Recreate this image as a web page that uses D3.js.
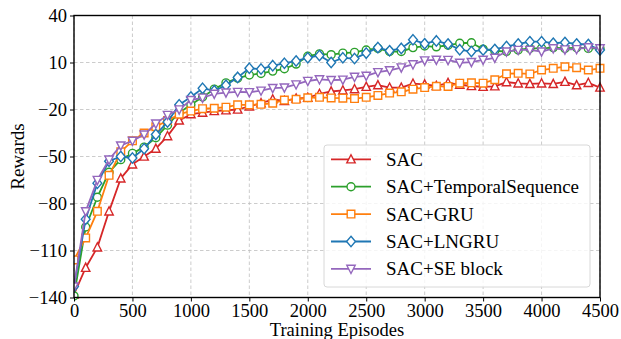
<!DOCTYPE html>
<html>
<head>
<meta charset="utf-8">
<script src="https://cdn.jsdelivr.net/npm/d3@7"></script>
<style>
  html, body { margin: 0; padding: 0; background: #fff; }
  svg text { font-family: "Liberation Serif", "Times New Roman", Tinos, Times, "DejaVu Serif", serif; fill: #000; }
</style>
</head>
<body>
<div id="mainDiv"></div>
<script>
'use strict';

var episodes = [0, 100, 200, 300, 400, 500, 600, 700, 800, 900,
    1000, 1100, 1200, 1300, 1400, 1500, 1600, 1700, 1800, 1900,
    2000, 2100, 2200, 2300, 2400, 2500, 2600, 2700, 2800, 2900,
    3000, 3100, 3200, 3300, 3400, 3500, 3600, 3700, 3800, 3900,
    4000, 4100, 4200, 4300, 4400, 4500];

var sacValues = [-138, -121, -108, -85, -64, -55, -50, -45, -37, -27,
    -23, -22, -21, -20.5, -20, -18, -16, -13.5, -14.5, -13,
    -12.5, -10, -8.5, -7.8, -7, -5.5, -4.5, -6, -6, -3.5,
    -4, -5, -3, -4.2, -5, -5.5, -5.2, -2.5, -3.3, -3.7,
    -3.3, -3.7, -2.3, -4.5, -3, -6];

var temporalValues = [-139, -95, -76, -60, -52, -48, -44, -38, -30, -22,
    -17, -12, -7, -3, 0, 2, 3, 4.5, 6, 9,
    14, 15.5, 15, 16, 16.5, 18, 19, 17, 17, 19.5,
    20.5, 20, 21, 22.3, 22.6, 18.5, 17.5, 17, 18, 19,
    19, 19.5, 19, 19.5, 19, 19];

var gruValues = [-116, -102, -85, -62, -47, -40, -35, -31, -27, -23,
    -21, -19.5, -19.2, -18.5, -17, -17, -16.7, -16, -14, -13.5,
    -12.5, -12.2, -12.6, -12.8, -13, -12.2, -11, -9.5, -8.7, -7,
    -6, -5.2, -5.3, -3.2, -3, -3.2, -1, 2.8, 3.1, 2.7,
    5.2, 6.3, 7.3, 6.7, 5.2, 6.3];

var lngruValues = [-133, -90, -67, -53, -50, -51, -45, -36, -28, -17,
    -12, -6.5, -8, -4.5, 0.5, 6.3, 5.8, 8, 9.5, 11,
    13, 14.5, 10, 13, 12.5, 16, 19.5, 17.5, 19, 24.5,
    22, 23.8, 21.8, 18.2, 17, 18, 18.3, 20.2, 21.8, 23.3,
    23.3, 22.3, 22.8, 21.8, 21.5, 18];

var seValues = [-133, -85, -65, -52, -43, -40, -36, -29, -23.5, -20,
    -14, -12.5, -10, -9.2, -8.8, -9, -8, -6.3, -6, -4,
    -1.8, -0.8, -1.2, -1, 0.8, 1.5, 3.8, 5, 6.8, 8.8,
    11.3, 11.7, 11.6, 9.8, 10.3, 11.7, 13, 17, 18, 18,
    17, 19, 18.3, 18.5, 19.7, 19];

var seriesNames = ['SAC', 'SAC+TemporalSequence', 'SAC+GRU', 'SAC+LNGRU', 'SAC+SE block'];
var xTicks = [0, 500, 1000, 1500, 2000, 2500, 3000, 3500, 4000, 4500];
var yTicks = [-140, -110, -80, -50, -20, 10, 40];

var chart = {};
var serifFont = '"Liberation Serif", "Times New Roman", Tinos, Times, "DejaVu Serif", serif';

chart.series = [
    {name: seriesNames[0], values: sacValues,      color: '#d62728', marker: 'triUp'},
    {name: seriesNames[1], values: temporalValues, color: '#2ca02c', marker: 'circle'},
    {name: seriesNames[2], values: gruValues,      color: '#ff7f0e', marker: 'square'},
    {name: seriesNames[3], values: lngruValues,    color: '#1f77b4', marker: 'diamond'},
    {name: seriesNames[4], values: seValues,       color: '#9467bd', marker: 'triDown'}
];

// marker outlines, centred on 0,0
chart.markerPath = function(kind)
{
    if(kind === 'circle')  return d3.symbol(d3.symbolCircle, 50)();
    if(kind === 'square')  return 'M-3.8,-3.8H3.8V3.8H-3.8Z';
    if(kind === 'diamond') return 'M0,-5.2L4.4,0L0,5.2L-4.4,0Z';
    if(kind === 'triUp')   return 'M0,-4.6L4.2,3.6L-4.2,3.6Z';
    return 'M0,4.6L4.2,-3.6L-4.2,-3.6Z';
}

chart.run = function()
{
    var W = 621, H = 339;
    var left = 74, right = 600, top = 15.5, bottom = 297.5;

    var svg = d3.select('#mainDiv').append('svg')
        .attr('width', W)
        .attr('height', H)
        .attr('font-family', serifFont);

    var x = d3.scaleLinear().domain([0, 4500]).range([left, right]);
    var y = d3.scaleLinear().domain([-140, 40]).range([bottom, top]);

    // grid
    var grid = svg.append('g').attr('stroke', '#b0b0b0').attr('stroke-width', 0.8)
        .attr('stroke-dasharray', '3.5,2.5').attr('opacity', 0.8);
    grid.selectAll('.gx').data(xTicks).enter().append('line')
        .attr('x1', function(d){ return x(d); }).attr('x2', function(d){ return x(d); })
        .attr('y1', top).attr('y2', bottom);
    grid.selectAll('.gy').data(yTicks).enter().append('line')
        .attr('y1', function(d){ return y(d); }).attr('y2', function(d){ return y(d); })
        .attr('x1', left).attr('x2', right);

    svg.append('clipPath').attr('id', 'plotClip')
        .append('rect').attr('x', left).attr('y', top - 6)
        .attr('width', right - left + 6).attr('height', bottom - top + 12);

    var line = d3.line()
        .x(function(d, i){ return x(episodes[i]); })
        .y(function(d){ return y(d); });

    var plot = svg.append('g').attr('clip-path', 'url(#plotClip)');

    chart.series.forEach(function(s)
    {
        var g = plot.append('g');
        g.append('path')
            .attr('d', line(s.values))
            .attr('fill', 'none')
            .attr('stroke', s.color)
            .attr('stroke-width', 1.8)
            .attr('stroke-linejoin', 'round');
        g.selectAll('path.m').data(s.values).enter().append('path')
            .attr('class', 'm')
            .attr('d', chart.markerPath(s.marker))
            .attr('transform', function(d, i){ return 'translate(' + x(episodes[i]) + ',' + y(d) + ')'; })
            .attr('fill', '#fff')
            .attr('stroke', s.color)
            .attr('stroke-width', 1.4);
    });

    // axes
    var xAxis = svg.append('g').attr('transform', 'translate(0,' + bottom + ')')
        .call(d3.axisBottom(x).tickValues(xTicks).tickSize(4).tickPadding(2)
            .tickFormat(d3.format('d')));
    var yAxis = svg.append('g').attr('transform', 'translate(' + left + ',0)')
        .call(d3.axisLeft(y).tickValues(yTicks).tickSize(4).tickPadding(3)
            .tickFormat(function(d){ return d < 0 ? '\u2212' + Math.abs(d) : d; }));

    [xAxis, yAxis].forEach(function(a)
    {
        a.attr('font-family', serifFont);
        a.select('.domain').remove();
        a.selectAll('.tick line').attr('stroke', '#000').attr('stroke-width', 1);
        a.selectAll('.tick text').attr('font-size', 18.5).attr('fill', '#000');
    });
    yAxis.selectAll('.tick text').attr('dy', '0.34em');

    svg.append('rect')
        .attr('x', left).attr('y', top)
        .attr('width', right - left).attr('height', bottom - top)
        .attr('fill', 'none').attr('stroke', '#000').attr('stroke-width', 1.4);

    svg.append('text')
        .attr('x', (left + right) / 2).attr('y', 335.5)
        .attr('text-anchor', 'middle').attr('font-size', 18.5)
        .text('Training Episodes');

    svg.append('text')
        .attr('transform', 'translate(24,' + ((top + bottom) / 2) + ') rotate(-90)')
        .attr('text-anchor', 'middle').attr('font-size', 19)
        .text('Rewards');

    // legend
    var lg = svg.append('g');
    lg.append('rect')
        .attr('x', 324).attr('y', 145).attr('width', 266).attr('height', 142)
        .attr('rx', 3).attr('fill', '#fff').attr('fill-opacity', 0.8)
        .attr('stroke', '#d8d8d8').attr('stroke-width', 1);

    var items = lg.selectAll('g.item').data(chart.series).enter().append('g')
        .attr('class', 'item')
        .attr('transform', function(d, i){ return 'translate(0,' + (159.3 + i * 27.4) + ')'; });
    items.append('line')
        .attr('x1', 331).attr('x2', 371).attr('y1', 0).attr('y2', 0)
        .attr('stroke', function(d){ return d.color; }).attr('stroke-width', 1.8);
    items.append('path')
        .attr('d', function(d){ return chart.markerPath(d.marker); })
        .attr('transform', 'translate(351,0)')
        .attr('fill', '#fff')
        .attr('stroke', function(d){ return d.color; }).attr('stroke-width', 1.4);
    items.append('text')
        .attr('x', 386).attr('y', 0).attr('dy', '0.34em')
        .attr('font-size', 19)
        .text(function(d){ return d.name; });
}

window.chart = chart;
chart.run();
</script>
</body>
</html>
